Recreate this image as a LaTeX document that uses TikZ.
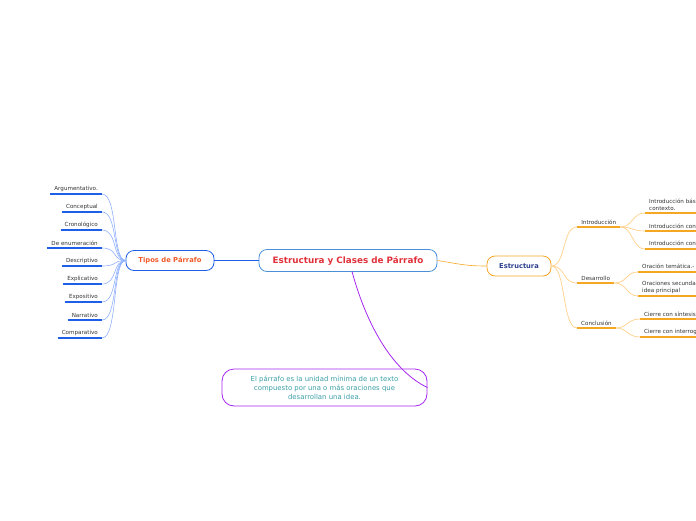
\documentclass[tikz,border=0pt]{standalone}
\usepackage{fontspec}
\setmainfont{DejaVu Sans}
\definecolor{cblue}{HTML}{4A90D9}
\definecolor{cred}{HTML}{E0303A}
\definecolor{tblue}{HTML}{1F5FE8}
\definecolor{torange}{HTML}{F05A28}
\definecolor{lblue}{HTML}{8FB0FF}
\definecolor{eorange}{HTML}{F5A623}
\definecolor{lorange}{HTML}{FFD08A}
\definecolor{enavy}{HTML}{2A3F8F}
\definecolor{npurple}{HTML}{A526F0}
\definecolor{nteal}{HTML}{3A9EA5}
\definecolor{ltext}{HTML}{333333}
\tikzset{
  x=1pt, y=-1pt,
  mainbox/.style={draw=cblue, line width=0.8pt, rounded corners=8pt, minimum width=178pt, minimum height=22pt, text=cred, font=\fontsize{8.8}{10}\selectfont\bfseries, inner sep=0pt},
  tiposbox/.style={draw=tblue, line width=0.8pt, rounded corners=8pt, minimum width=88pt, minimum height=20pt, text=torange, font=\fontsize{6.8}{8}\selectfont\bfseries, inner sep=0pt},
  estbox/.style={draw=eorange, line width=0.8pt, rounded corners=8pt, minimum width=64pt, minimum height=20pt, text=enavy, font=\fontsize{6.7}{8}\selectfont\bfseries, inner sep=0pt},
  notebox/.style={draw=npurple, line width=0.8pt, rounded corners=12pt, minimum width=205pt, minimum height=37pt, text=nteal, font=\fontsize{6.9}{8.8}\selectfont, align=center, inner sep=0pt},
  leaf/.style={font=\fontsize{5.6}{6.6}\selectfont, text=ltext, inner xsep=4pt, inner ysep=2.2pt},
  leafR/.style={leaf, anchor=south west, align=left, text width=120pt},
  ulB/.style={draw=tblue, line width=1.4pt},
  ulO/.style={draw=eorange, line width=1.4pt},
  connB/.style={draw=lblue, line width=0.6pt},
  connO/.style={draw=lorange, line width=0.7pt},
}
\begin{document}
\begin{tikzpicture}
\useasboundingbox (0,0) rectangle (696,520);
\clip (0,0) rectangle (696,520);

% main nodes
\node[mainbox] (main) at (348,260.5) {Estructura y Clases de Párrafo};
\node[tiposbox] (tipos) at (170,260.5) {Tipos de Párrafo};
\node[estbox] (est) at (519,266) {Estructura};
\node[notebox] (note) at (324.5,387.5) {El párrafo es la unidad mínima de un texto\\compuesto por una o más oraciones que\\desarrollan una idea.};

\draw[draw=tblue, line width=0.8pt] (tipos.east) -- (main.west);
\draw[draw=eorange, line width=0.6pt] (main.east) .. controls (460,264) and (465,266) .. (est.west);
\draw[draw=npurple, line width=0.8pt] (352,271.5) coordinate (mb) .. controls (368,330) and (395,372) .. (note.east);

% left leaves
\foreach \nm/\txt/\yy in {l1/Argumentativo./194, l2/Conceptual/212, l3/Cronológico/230, l4/De enumeración/248, l5/Descriptivo/266, l6/Explicativo/284, l7/Expositivo/302, l8/Narrativo/320, l9/Comparativo/338}{
  \node[leaf, anchor=south east] (\nm) at (102,\yy) {\txt};
  \draw[ulB] (\nm.south west) -- (\nm.south east);
  \draw[connB] (\nm.south east) .. controls (118,\yy) and (112,260.5) .. (tipos.west);
}

% right level 1
\node[leaf, anchor=south west, minimum width=43pt, align=left] (intro) at (577,227) {Introducción};
\node[leaf, anchor=south west, minimum width=37pt, align=left] (des) at (577,283) {Desarrollo};
\node[leaf, anchor=south west, minimum width=38pt, align=left] (con) at (577,328) {Conclusión};
\foreach \nm in {intro,des,con}{
  \draw[ulO] (\nm.south west) -- (\nm.south east);
}
\draw[connO] (est.east) .. controls (566,266) and (562,227) .. (intro.south west);
\draw[connO] (est.east) .. controls (566,266) and (562,283) .. (des.south west);
\draw[connO] (est.east) .. controls (566,266) and (562,328) .. (con.south west);

% right level 2
\node[leafR] (i1) at (645,213) {Introducción básica o de\\contexto.};
\node[leafR] (i2) at (645,231) {Introducción con anécdota};
\node[leafR] (i3) at (645,249) {Introducción con pregunta};
\node[leafR] (d1) at (638,272) {Oración temática.- Idea principal};
\node[leafR] (d2) at (638,296) {Oraciones secundarias que apoyan la\\idea principal};
\node[leafR] (c1) at (640,319) {Cierre con síntesis.};
\node[leafR] (c2) at (640,337) {Cierre con interrogante};
\foreach \nm in {i1,i2,i3,d1,d2,c1,c2}{
  \draw[ulO] (\nm.south west) -- (\nm.south east);
}
\foreach \nm in {i1,i2,i3}{
  \draw[connO] (intro.south east) .. controls (633,227) and (632,0 |- \nm.south west) .. (\nm.south west);
}
\foreach \nm in {d1,d2}{
  \draw[connO] (des.south east) .. controls (627,283) and (626,0 |- \nm.south west) .. (\nm.south west);
}
\foreach \nm in {c1,c2}{
  \draw[connO] (con.south east) .. controls (628,328) and (627,0 |- \nm.south west) .. (\nm.south west);
}
\end{tikzpicture}
\end{document}
